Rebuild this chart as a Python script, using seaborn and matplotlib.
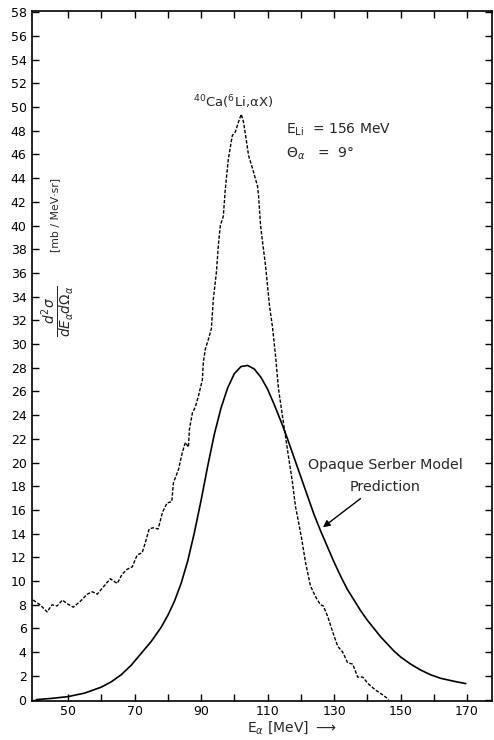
import matplotlib
matplotlib.use("Agg")
import matplotlib.pyplot as plt
import seaborn as sns
import pandas as pd

# Measured spectrum (dashed)
meas_E = [39.5, 41.6, 43.7, 45.2, 46.7, 48.3, 49.7, 51.6, 53.7, 55.8, 57.3, 58.8,
          60.3, 61.8, 62.7, 64.8, 66.3, 67.8, 69.3, 70.8, 72.3, 73.2, 74.4, 75.6,
          77.1, 78.4, 79.8, 81.2, 81.7, 83.2, 84.4, 85.3, 86.2, 86.5, 87.4, 88.3,
          89.2, 90.4, 90.7, 91.3, 92.2, 93.1, 93.7, 94.6, 95.2, 95.8, 96.7, 97.3,
          98.2, 99.4, 100.3, 101.2, 102.1, 102.8, 103.4, 104.3, 105.5, 107.0, 107.3,
          107.9, 108.5, 109.4, 110.0, 110.6, 111.5, 112.4, 113.3, 114.5, 115.4,
          116.3, 117.5, 118.4, 119.3, 120.3, 121.4, 122.9, 124.4, 125.9, 126.8,
          128.1, 129.6, 131.1, 132.6, 134.1, 135.6, 137.1, 138.6, 140.4, 142.5,
          144.6, 146.5]
meas_xs = [8.4, 8.0, 7.4, 8.0, 7.9, 8.4, 8.1, 7.8, 8.3, 8.9, 9.1, 8.9,
           9.4, 9.9, 10.2, 9.8, 10.6, 11.0, 11.2, 12.2, 12.4, 13.2, 14.4, 14.5,
           14.4, 15.8, 16.6, 16.7, 18.3, 19.4, 20.9, 21.7, 21.3, 22.8, 24.2, 24.7,
           25.6, 27.0, 28.5, 29.6, 30.4, 31.3, 33.8, 36.0, 38.3, 40.0, 40.8, 43.1,
           45.6, 47.6, 47.9, 48.7, 49.4, 48.7, 47.6, 45.9, 44.8, 43.3, 42.5,
           40.0, 38.6, 36.6, 34.9, 33.2, 31.4, 29.0, 26.2, 23.9, 22.2,
           20.5, 18.3, 16.3, 15.0, 13.5, 11.6, 9.6, 8.7, 8.0, 7.9,
           7.0, 5.7, 4.5, 4.0, 3.1, 3.0, 1.9, 1.9, 1.3, 0.8,
           0.4, 0.0]

# Opaque Serber model prediction (solid)
model_E = [40.5, 45, 50, 55, 60, 63, 66, 69, 72, 75, 78, 80, 82, 84, 86, 88, 90,
           92, 94, 96, 98, 100, 102, 104, 106, 108, 110, 112, 114, 116, 118, 120,
           122, 124, 126, 128, 130, 132, 134, 136, 138, 140, 142, 144, 146, 148,
           150, 153, 156, 159, 162, 166, 169.6]
model_xs = [0.0, 0.1, 0.25, 0.55, 1.05, 1.5, 2.1, 2.9, 3.9, 4.9, 6.1, 7.1, 8.3,
            9.8, 11.7, 14.1, 16.8, 19.7, 22.4, 24.6, 26.3, 27.5, 28.1, 28.2, 27.9,
            27.2, 26.2, 24.9, 23.5, 22.0, 20.4, 18.8, 17.2, 15.6, 14.2, 12.9, 11.6,
            10.4, 9.3, 8.4, 7.5, 6.7, 6.0, 5.3, 4.7, 4.1, 3.6, 3.0, 2.5, 2.1, 1.8,
            1.55, 1.35]

x_ticks = list(range(50, 171, 10))
x_labels = [str(v) if v % 20 == 10 else "" for v in x_ticks]
y_ticks = list(range(0, 59, 2))

sns.set_style("ticks")
plt.rcParams['font.family'] = ['DejaVu Sans']

fig = plt.figure(figsize=(4.94, 7.40), dpi=100)
ax = fig.add_axes([0.065, 0.053, 0.931, 0.932])

df_m = pd.DataFrame({"E": meas_E, "xs": meas_xs})
df_p = pd.DataFrame({"E": model_E, "xs": model_xs})

sns.lineplot(data=df_m, x="E", y="xs", ax=ax, color="black", lw=1.0,
             linestyle=(0, (2.5, 1.2)), sort=False)
sns.lineplot(data=df_p, x="E", y="xs", ax=ax, color="black", lw=1.2, sort=False)

ax.set_xlim(39.2, 177.5)
ax.set_ylim(-0.1, 58.1)
ax.set_xticks(x_ticks)
ax.set_xticklabels(x_labels)
ax.set_yticks(y_ticks)
ax.set_yticklabels([str(v) for v in y_ticks])
ax.tick_params(direction="in", length=5, width=1, labelsize=9, colors="black",
               top=True, right=True, pad=3)
ax.tick_params(axis="y", pad=4)
for s in ax.spines.values():
    s.set_linewidth(1.2)
    s.set_color("black")
ax.set_xlabel("")
ax.set_ylabel("")

fig.text(0.59, 0.017, r"E$_\alpha$ [MeV] $\longrightarrow$", ha="center",
         va="center", fontsize=10)

ax.text(0.05, 0.705, "[mb / MeV·sr]", transform=ax.transAxes, rotation=90,
        ha="center", va="center", fontsize=7.8)
ax.text(0.058, 0.565, r"$\frac{d^2\sigma}{dE_\alpha d\Omega_\alpha}$",
        transform=ax.transAxes, rotation=90, ha="center", va="center", fontsize=14)

ax.text(87.6, 50.4, r"$^{40}$Ca($^{6}$Li,αX)", ha="left", va="center", fontsize=9.5)
ax.text(115.5, 48.1, r"E$_{\rm Li}$  = 156 MeV", ha="left", va="center", fontsize=10)
ax.text(115.5, 46.1, r"$\Theta_\alpha$   =  9°", ha="left", va="center", fontsize=10)

ax.text(145.3, 19.8, "Opaque Serber Model", ha="center", va="center", fontsize=10.3)
ax.text(145.3, 17.9, "Prediction", ha="center", va="center", fontsize=10.3)
ax.annotate("", xy=(126.0, 14.4), xytext=(138.6, 17.1),
            arrowprops=dict(arrowstyle="-|>", color="black", lw=1.0,
                            mutation_scale=10))

fig.savefig("out.png", dpi=100, facecolor="white")
